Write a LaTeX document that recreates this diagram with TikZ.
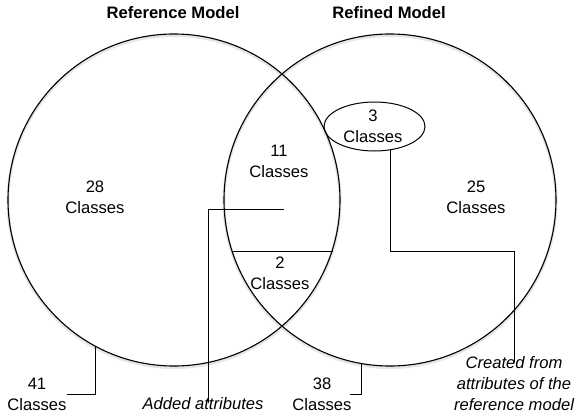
\documentclass[tikz,border=0pt]{standalone}
\usepackage{fontspec}
\setmainfont{Liberation Sans}
\usetikzlibrary{shapes.geometric}
\begin{document}
\begin{tikzpicture}[x=1pt,y=-1pt,
  lbl/.style={inner sep=0pt,align=center,font=\fontsize{16.6}{21}\selectfont},
  ttl/.style={inner sep=0pt,font=\fontsize{16.6}{21}\selectfont\bfseries},
  itl/.style={inner sep=0pt,align=center,font=\fontsize{16.6}{21}\selectfont\itshape},
  set/.style={circle,draw,line width=1.1pt,minimum size=332pt,inner sep=0pt},
  lead/.style={draw,line width=0.9pt}]
\useasboundingbox (0,0) rectangle (577,417);
% shadows
\draw[black!10,line width=3pt] (174,201.5) circle[radius=166];
\draw[black!10,line width=3pt] (390,201.5) circle[radius=166];
\node[set] (L) at (174,200) {};
\node[set] (R) at (390,200) {};
\node[ttl] (tL) at (173,13) {Reference Model};
\node[ttl] (tR) at (389,13) {Refined Model};
\node[lbl] (n28) at (95,197.5) {28\\Classes};
\node[lbl] (n25) at (476,197.5) {25\\Classes};
\node[lbl] (n11) at (279,161.5) {11\\Classes};
\node[lbl] (n2) at (280,273) {2\\Classes};
\node[ellipse,draw,line width=1pt,minimum width=101pt,minimum height=49pt,inner sep=0pt] (e3) at (374.5,126.5) {};
\node[lbl] (n3) at (373,126.5) {3\\Classes};
\node[lbl] (n41) at (37,394.5) {41\\Classes};
\node[lbl] (n38) at (322,394.5) {38\\Classes};
\node[itl] (nAdded) at (203,404) {Added attributes};
\node[itl] (nCreated) at (514,384) {Created from\\attributes of the\\reference model};
% chord in lens
\coordinate (chA) at (231.5,251);
\coordinate (chB) at (332.5,251);
\draw[lead] (chA) -- (chB);
% leaders
\coordinate (a0) at (284,209);
\draw[lead] (a0) -| ([xshift=5pt,yshift=-5pt]nAdded.north);
\draw[lead] (e3.-56) -- ++(0,101) -| ([yshift=-5pt]nCreated.north);
\draw[lead] (L.-118.6) |- (n41.east);
\draw[lead,shorten >=-2pt] (R.-100.6) |- (n38.east);
\end{tikzpicture}
\end{document}
